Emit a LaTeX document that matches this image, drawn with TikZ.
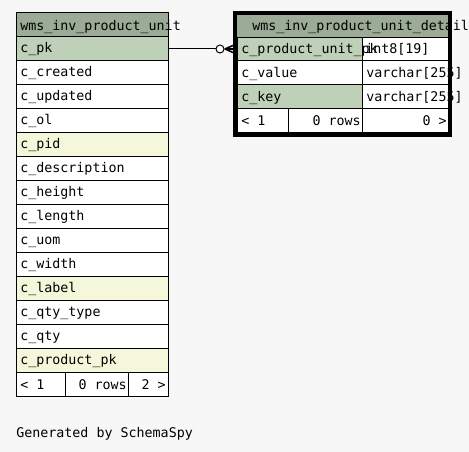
\documentclass[tikz,border=0pt]{standalone}
\usepackage{fontspec}
\setmonofont{DejaVu Sans Mono}
\definecolor{bg}{HTML}{F7F7F7}
\definecolor{hdr}{HTML}{9BAB96}
\definecolor{pkc}{HTML}{BED1B8}
\definecolor{fkc}{HTML}{F4F7DA}
\tikzset{
  cell/.style={draw=black, line width=0.75pt, inner sep=0pt, outer sep=0pt, anchor=north west},
  txt/.style={inner sep=0pt, anchor=base west},
  txtr/.style={inner sep=0pt, anchor=base east},
}
\begin{document}
\begin{tikzpicture}[x=0.75pt,y=-0.75pt,font=\ttfamily\fontsize{10}{12}\selectfont]
\fill[bg] (0,0) rectangle (469,452);
\useasboundingbox (0,0) rectangle (469,452);
% left table
\node[cell, fill=hdr, minimum width=152*0.75pt, minimum height=24*0.75pt] (LH) at (16,13) {};
\foreach \c [count=\i] in {pkc,white,white,white,fkc,white,white,white,white,white,fkc,white,white,fkc} {
  \node[cell, fill=\c, minimum width=152*0.75pt, minimum height=24*0.75pt] (L\i) at (16,{13+24*\i}) {};
}
\node[cell, fill=white, minimum width=49*0.75pt, minimum height=24*0.75pt] (LF1) at (16,373) {};
\node[cell, fill=white, minimum width=63*0.75pt, minimum height=24*0.75pt] (LF2) at (65,373) {};
\node[cell, fill=white, minimum width=40*0.75pt, minimum height=24*0.75pt] (LF3) at (128,373) {};
\node[txt] (LHT) at (20,31) {wms\_inv\_product\_unit};
\foreach \t [count=\i] in {c\_pk,c\_created,c\_updated,c\_ol,c\_pid,c\_description,c\_height,c\_length,c\_uom,c\_width,c\_label,c\_qty\_type,c\_qty,c\_product\_pk} {
  \node[txt] (LT\i) at (20,{13+24*\i+16}) {\t};
}
\node[txt] (LFT1) at (20,390) {< 1};
\node[txtr] (LFT2) at (127,390) {0 rows};
\node[txtr] (LFT3) at (166,390) {2 >};
% right table
\node[cell, draw=none, fill=hdr, minimum width=211*0.75pt, minimum height=23*0.75pt] (RH) at (237,14.5) {};
\node[cell, fill=pkc, minimum width=125*0.75pt, minimum height=24*0.75pt] (R1) at (237,37.5) {};
\node[cell, fill=white, minimum width=86*0.75pt, minimum height=24*0.75pt] (V1) at (362,37.5) {};
\node[cell, fill=white, minimum width=125*0.75pt, minimum height=24*0.75pt] (R2) at (237,61) {};
\node[cell, fill=white, minimum width=86*0.75pt, minimum height=24*0.75pt] (V2) at (362,61) {};
\node[cell, fill=pkc, minimum width=125*0.75pt, minimum height=24*0.75pt] (R3) at (237,85) {};
\node[cell, fill=white, minimum width=86*0.75pt, minimum height=24*0.75pt] (V3) at (362,85) {};
\node[cell, fill=white, minimum width=51*0.75pt, minimum height=24*0.75pt] (RF1) at (237,109) {};
\node[cell, fill=white, minimum width=74*0.75pt, minimum height=24*0.75pt] (RF2) at (288,109) {};
\node[cell, fill=white, minimum width=86*0.75pt, minimum height=24*0.75pt] (RF3) at (362,109) {};
\node[txt] (RHT) at (252,31) {wms\_inv\_product\_unit\_detail};
\node[txt] (RT1) at (241,54) {c\_product\_unit\_pk};
\node[txt] (RT2) at (241,78) {c\_value};
\node[txt] (RT3) at (241,102) {c\_key};
\node[txt] (VT1) at (365,54) {int8[19]};
\node[txt] (VT2) at (366,78) {varchar[255]};
\node[txt] (VT3) at (366,102) {varchar[255]};
\node[txt] (RFT1) at (241,126) {< 1};
\node[txtr] (RFT2) at (361,126) {0 rows};
\node[txtr] (RFT3) at (447,126) {0 >};
\draw[line width=3pt] (235.3,13) rectangle (450.3,134.7);
% connector
\node[draw, circle, fill=white, line width=0.75pt, minimum size=8*0.75pt, inner sep=0pt] (ring) at (220,49) {};
\draw[line width=0.75pt] (L1.east) -- (ring.west);
\coordinate (crow) at (225,49);
\draw[line width=1.2pt] (ring.east) -- (233,49) (crow) -- (233,45.5) (crow) -- (233,52.5);
\node[txt] (gen) at (16,438) {Generated by SchemaSpy};
\end{tikzpicture}
\end{document}
